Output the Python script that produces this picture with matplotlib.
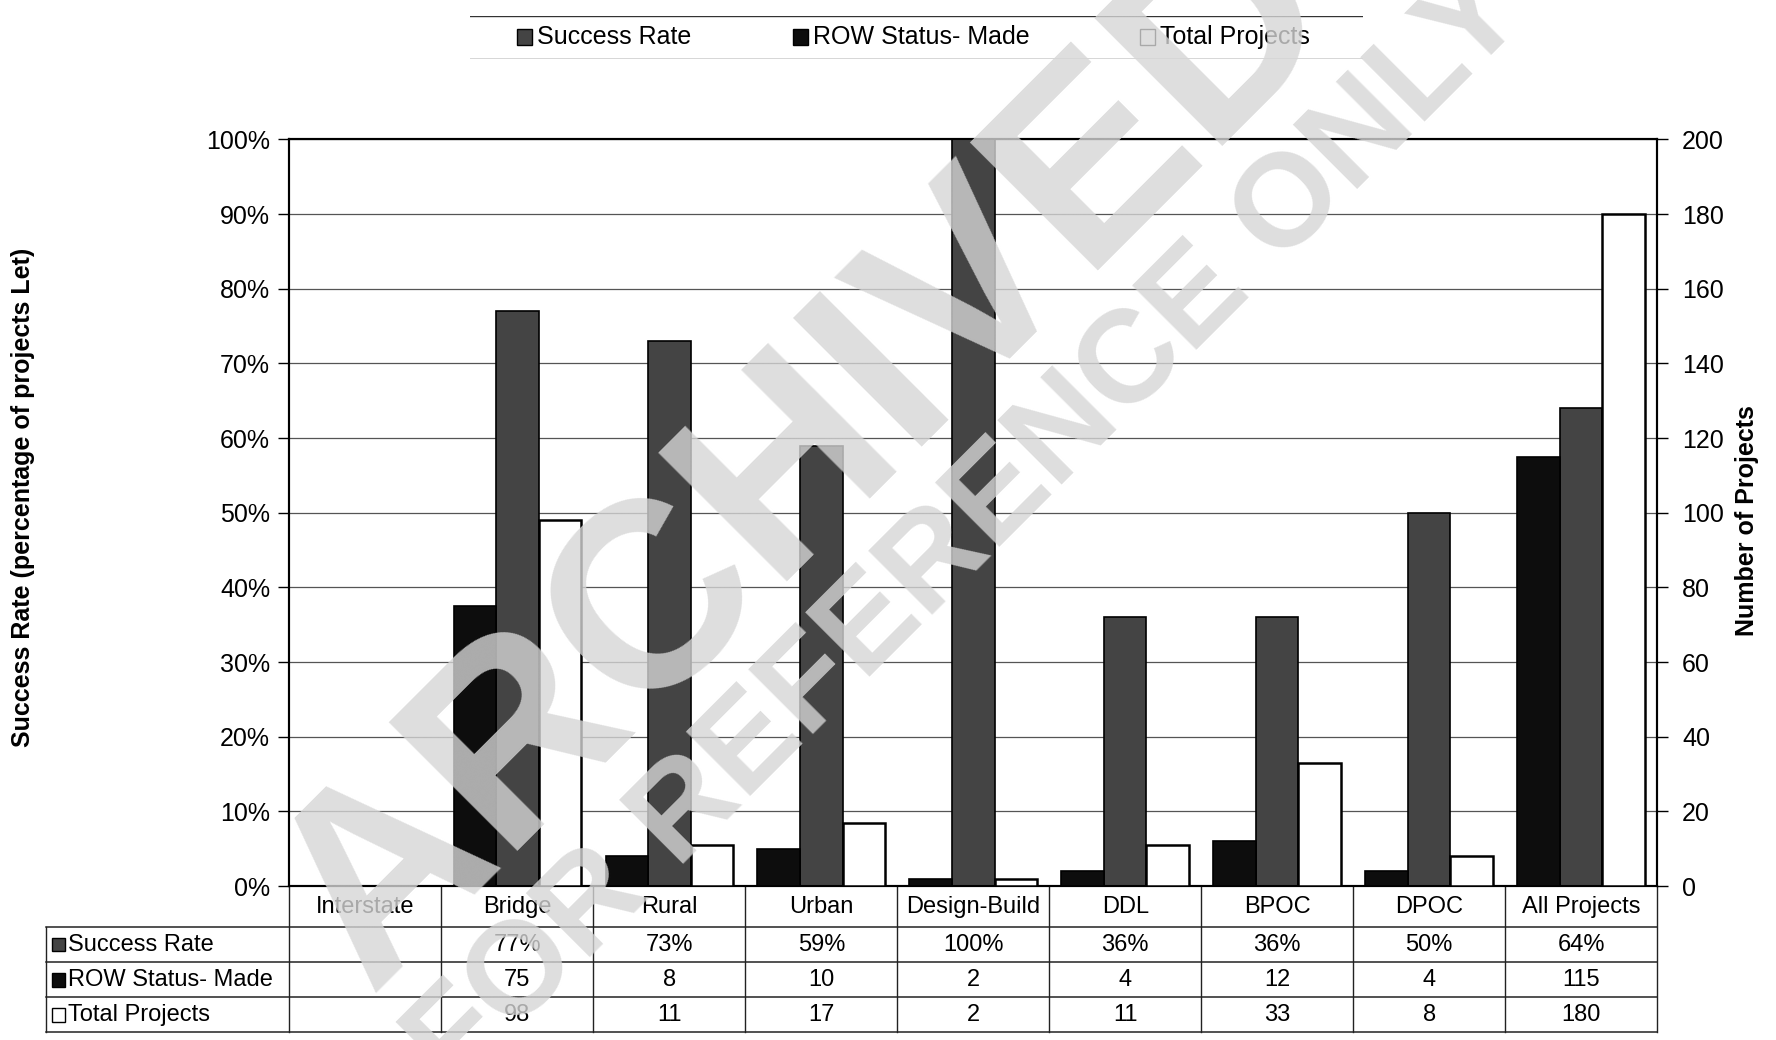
import numpy as np
import matplotlib
matplotlib.use("Agg")
import matplotlib.pyplot as plt
from matplotlib.transforms import blended_transform_factory
from matplotlib.patches import Rectangle

plt.rcParams['font.family'] = ['Liberation Sans', 'DejaVu Sans']

categories = ["Interstate", "Bridge", "Rural", "Urban", "Design-Build", "DDL", "BPOC", "DPOC", "All Projects"]
success_rate = [np.nan, 77, 73, 59, 100, 36, 36, 50, 64]
row_made = [np.nan, 75, 8, 10, 2, 4, 12, 4, 115]
total_projects = [np.nan, 98, 11, 17, 2, 11, 33, 8, 180]
success_labels = ["", "77%", "73%", "59%", "100%", "36%", "36%", "50%", "64%"]
row_labels = ["", "75", "8", "10", "2", "4", "12", "4", "115"]
total_labels = ["", "98", "11", "17", "2", "11", "33", "8", "180"]

GRAY = "#444444"
BLACK = "#0d0d0d"

fig = plt.figure(figsize=(17.76, 10.40), dpi=100)
ax = fig.add_axes([0.163, 0.148, 0.770, 0.718])
ax2 = ax.twinx()

x = np.arange(len(categories))
w = 0.28
sr = np.array(success_rate, dtype=float) / 100.0
ax.bar(x, sr, width=w, color=GRAY, edgecolor="black", linewidth=1.2, zorder=3)
ax2.bar(x - w, row_made, width=w, color=BLACK, edgecolor="black", linewidth=1.2, zorder=3)
ax2.bar(x + w, total_projects, width=w, color="white", edgecolor="black", linewidth=1.8, zorder=3)

ax.set_xlim(-0.5, len(categories) - 0.5)
ax.set_ylim(0, 1.0)
ax2.set_ylim(0, 200)
ax.set_yticks(np.arange(0, 1.01, 0.1))
ax.set_yticklabels([f"{int(round(v*100))}%" for v in np.arange(0, 1.01, 0.1)])
ax2.set_yticks(np.arange(0, 201, 20))
ax.yaxis.grid(True, color="#555555", linewidth=0.9, zorder=0)
ax.set_axisbelow(True)
ax.set_xticks([])
for a in (ax, ax2):
    a.tick_params(axis="y", labelsize=18, length=8, width=1, direction="out", pad=6)
    for s in a.spines.values():
        s.set_linewidth(1.5)
ax2.tick_params(axis="y", pad=10)
ax.set_ylabel("Success Rate (percentage of projects Let)", fontsize=18, fontweight="bold")
ax.yaxis.set_label_coords(-0.186, 0.52)
ax2.set_ylabel("Number of Projects", fontsize=18, fontweight="bold")
ax2.yaxis.set_label_coords(1.057, 0.49)

# data table beneath the axes
tr = blended_transform_factory(ax.transData, ax.transAxes)
tra = ax.transAxes
n = len(categories)
row_h = 0.047
head_h = 0.055
lab_left = -0.178
y_head_bot = -head_h
row_tops = [y_head_bot - i * row_h for i in range(4)]
lc = "#222222"
ax.plot([lab_left, 1.0], [y_head_bot, y_head_bot], transform=tra, color=lc, lw=1.1, clip_on=False)
for yb in row_tops[1:]:
    ax.plot([lab_left, 1.0], [yb, yb], transform=tra, color=lc, lw=1.1, clip_on=False)
for i in range(n + 1):
    ax.plot([i - 0.5, i - 0.5], [0, row_tops[-1]], transform=tr, color=lc, lw=1.0, clip_on=False)
ax.plot([lab_left, lab_left], [y_head_bot, row_tops[-1]], transform=tra, color=lc, lw=1.0, clip_on=False)
for i, c in enumerate(categories):
    ax.text(i, -head_h / 2, c, transform=tr, ha="center", va="center", fontsize=17)
series_names = ["Success Rate", "ROW Status- Made", "Total Projects"]
series_cols = [GRAY, BLACK, "white"]
series_vals = [success_labels, row_labels, total_labels]
for r in range(3):
    yc = (row_tops[r] + row_tops[r + 1]) / 2
    ax.add_patch(Rectangle((lab_left + 0.004, yc - 0.009), 0.010, 0.018, transform=tra,
                           facecolor=series_cols[r], edgecolor="black", lw=1.0, clip_on=False))
    ax.text(lab_left + 0.016, yc, series_names[r], transform=tra, ha="left", va="center", fontsize=17)
    for i, v in enumerate(series_vals[r]):
        ax.text(i, yc, v, transform=tr, ha="center", va="center", fontsize=17)

# legend box at top
lg_ax = fig.add_axes([0.2647, 0.943, 0.5026, 0.042])
lg_ax.set_xlim(0, 1)
lg_ax.set_ylim(0, 1)
lg_ax.axis("off")
lg_ax.plot([0, 1], [1, 1], color="#333333", lw=1.0)
lg_ax.plot([0, 1], [0, 0], color="#333333", lw=1.0)
for xp, name, col in [(0.053, "Success Rate", GRAY), (0.362, "ROW Status- Made", BLACK), (0.751, "Total Projects", "white")]:
    lg_ax.add_patch(Rectangle((xp, 0.32), 0.016, 0.38, facecolor=col, edgecolor="black", lw=1.0))
    lg_ax.text(xp + 0.022, 0.5, name, ha="left", va="center", fontsize=18)

# watermark
fig.text(0.455, 0.56, "ARCHIVED", fontsize=190, fontweight="bold", color="#d6d6d6", alpha=0.8,
         rotation=45, ha="center", va="center", zorder=10)
fig.text(0.545, 0.49, "FOR REFERENCE ONLY", fontsize=95, fontweight="bold", color="#d6d6d6", alpha=0.8,
         rotation=45, ha="center", va="center", zorder=10)

fig.savefig("out.png", dpi=100, facecolor="white")
